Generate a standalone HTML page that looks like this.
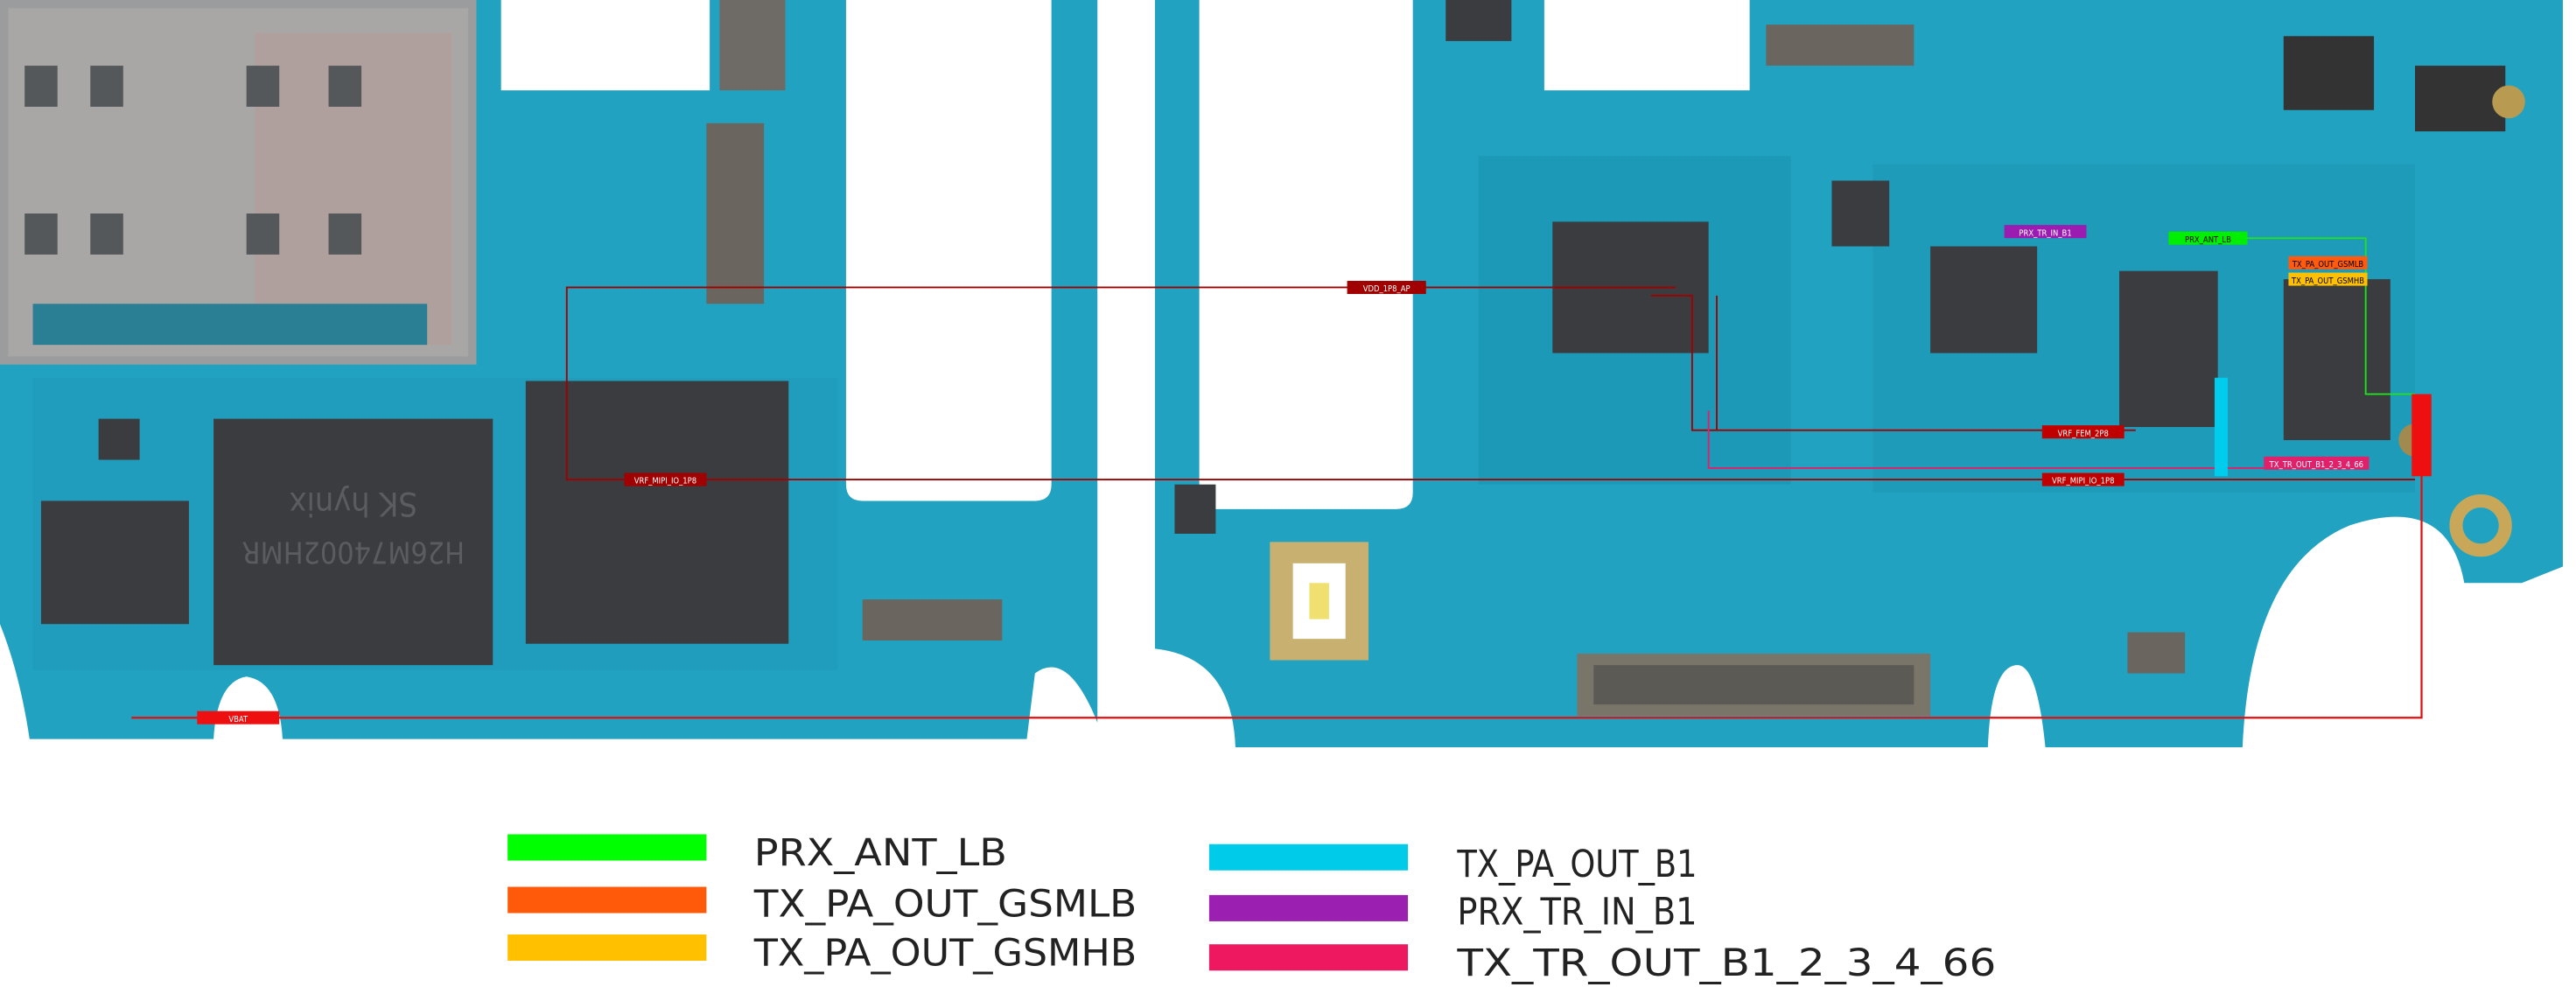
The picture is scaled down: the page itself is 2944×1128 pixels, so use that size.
<!DOCTYPE html>
<html><head><meta charset="utf-8"><style>
html,body{margin:0;padding:0;background:#fff;}
svg{display:block;}
text{font-family:"DejaVu Sans Condensed","Liberation Sans",sans-serif;}
</style></head><body>
<svg width="2944" height="1128" viewBox="0 0 1568 601" preserveAspectRatio="none" xmlns="http://www.w3.org/2000/svg">
<rect width="1568" height="601" fill="#fff"/>
<path d="M0 0 H305 V55 H432 V0 H515 V295 Q515 305 525 305 H630 Q640 305 640 295 V0 H668 V440 Q650 395 630 410 L625 450 H172 Q170 415 150 412 Q132 415 130 450 H18 Q12 410 0 380 Z" fill="#22a2c1"/>
<path d="M703 0 H730 V300 Q730 310 740 310 H850 Q860 310 860 300 V0 H940 V55 H1065 V0 H1560 V345 L1535 355 H1500 Q1490 300 1430 320 Q1370 345 1365 455 H1245 Q1240 405 1228 405 Q1212 405 1210 455 H752 Q750 400 703 395 Z" fill="#22a2c1"/>
<rect x="900" y="95" width="190" height="200" fill="#1b93b3" opacity="0.6"/>
<rect x="1140" y="100" width="330" height="200" fill="#1b93b3" opacity="0.5"/>
<rect x="20" y="230" width="490" height="178" fill="#1d98b8" opacity="0.5"/>
<rect x="0" y="0" width="290" height="222" fill="#9a9c9e"/>
<rect x="5" y="5" width="280" height="212" fill="#a9a7a6"/>
<rect x="155" y="20" width="120" height="190" fill="#b49a98" opacity="0.6"/>
<rect x="20" y="185" width="240" height="25" fill="#2a7f95"/>
<g fill="#55585a">
<rect x="15" y="40" width="20" height="25"/><rect x="55" y="40" width="20" height="25"/><rect x="150" y="40" width="20" height="25"/><rect x="200" y="40" width="20" height="25"/>
<rect x="15" y="130" width="20" height="25"/><rect x="55" y="130" width="20" height="25"/><rect x="150" y="130" width="20" height="25"/><rect x="200" y="130" width="20" height="25"/>
</g>
<rect x="438" y="0" width="40" height="55" fill="#6e6b66"/>
<rect x="430" y="75" width="35" height="110" fill="#6a655e"/>
<rect x="1075" y="15" width="90" height="25" fill="#6a655e"/>
<g fill="#3a3c3f">
<rect x="130" y="255" width="170" height="150"/>
<rect x="320" y="232" width="160" height="160"/>
<rect x="25" y="305" width="90" height="75"/>
<rect x="945" y="135" width="95" height="80"/>
<rect x="1175" y="150" width="65" height="65"/>
<rect x="1290" y="165" width="60" height="95"/>
<rect x="1390" y="170" width="65" height="98"/>
<rect x="1390" y="22" width="55" height="45" fill="#333"/>
<rect x="1470" y="40" width="55" height="40" fill="#333"/>
<rect x="880" y="0" width="40" height="25"/>
<rect x="1115" y="110" width="35" height="40"/>
<rect x="60" y="255" width="25" height="25"/>
<rect x="715" y="295" width="25" height="30"/>
</g>
<text x="215" y="330" font-size="18" fill="#5a5c60" text-anchor="middle" transform="rotate(180 215 330)">H26M74002HMR</text>
<text x="215" y="300" font-size="20" fill="#5a5c60" text-anchor="middle" transform="rotate(180 215 300)">SK hynix</text>
<rect x="525" y="365" width="85" height="25" fill="#6a655e"/>
<rect x="960" y="398" width="215" height="38" fill="#7a7569"/>
<rect x="970" y="405" width="195" height="24" fill="#5c5a55"/>
<rect x="1295" y="385" width="35" height="25" fill="#6a655e"/>
<rect x="773" y="330" width="60" height="72" fill="#c8b070"/>
<rect x="787" y="343" width="32" height="46" fill="#fff"/>
<rect x="797" y="355" width="12" height="22" fill="#f0e070"/>
<circle cx="1510" cy="320" r="15" fill="none" stroke="#c8a858" stroke-width="8"/>
<circle cx="1527" cy="62" r="10" fill="#b89a50"/>
<circle cx="1470" cy="268" r="10" fill="#a08a50"/>
<g fill="none" stroke="#a00000" stroke-width="1">
<path d="M1020 175 H345 V292 H1470"/>
<path d="M1005 180 H1030 V262 H1300"/>
<path d="M1045 262 V180"/>
</g>
<path d="M80 437 H1474 V240" fill="none" stroke="#e01010" stroke-width="1.2"/>
<path d="M1040 250 V285 H1380" fill="none" stroke="#e0206a" stroke-width="1"/>
<path d="M1360 145 H1440 V240 H1470" fill="none" stroke="#20e020" stroke-width="1"/>
<g font-size="5" fill="#fff" text-anchor="middle">
<rect x="820" y="171" width="48" height="8" fill="#a00000"/><text x="844" y="177.5">VDD_1P8_AP</text>
<rect x="380" y="288" width="50" height="8" fill="#a00000"/><text x="405" y="294.5">VRF_MIPI_IO_1P8</text>
<rect x="1243" y="259" width="50" height="8" fill="#c00000"/><text x="1268" y="265.5">VRF_FEM_2P8</text>
<rect x="1243" y="288" width="50" height="8" fill="#c00000"/><text x="1268" y="294.5">VRF_MIPI_IO_1P8</text>
<rect x="1378" y="278" width="64" height="8" fill="#e0206a"/><text x="1410" y="284.5">TX_TR_OUT_B1_2_3_4_66</text>
<rect x="120" y="433" width="50" height="8" fill="#ee1010"/><text x="145" y="439.5">VBAT</text>
<rect x="1220" y="137" width="50" height="8" fill="#9a1cb0"/><text x="1245" y="143.5">PRX_TR_IN_B1</text>
<rect x="1320" y="141" width="48" height="8" fill="#00ee00"/><text x="1344" y="147.5" fill="#000">PRX_ANT_LB</text>
<rect x="1393" y="156" width="48" height="8" fill="#ff5a10"/><text x="1417" y="162.5" fill="#000">TX_PA_OUT_GSMLB</text>
<rect x="1393" y="166" width="48" height="8" fill="#ffc000"/><text x="1417" y="172.5" fill="#000">TX_PA_OUT_GSMHB</text>
<rect x="1348" y="230" width="8" height="60" fill="#00ccee"/>
<rect x="1468" y="240" width="12" height="50" fill="#ee1010"/>
</g>
<rect x="309" y="508" width="121" height="16" fill="#00ff00"/>
<rect x="309" y="540" width="121" height="16" fill="#ff5a0a"/>
<rect x="309" y="569" width="121" height="16" fill="#ffc000"/>
<rect x="736" y="514" width="121" height="16" fill="#00ccea"/>
<rect x="736" y="545" width="121" height="16" fill="#9b1fb0"/>
<rect x="736" y="575" width="121" height="16" fill="#ed1860"/>
<g font-size="23" fill="#222">
<text x="459" y="527" textLength="154" lengthAdjust="spacingAndGlyphs">PRX_ANT_LB</text>
<text x="459" y="558" textLength="233" lengthAdjust="spacingAndGlyphs">TX_PA_OUT_GSMLB</text>
<text x="459" y="588" textLength="233" lengthAdjust="spacingAndGlyphs">TX_PA_OUT_GSMHB</text>
<text x="887" y="534" textLength="146" lengthAdjust="spacingAndGlyphs">TX_PA_OUT_B1</text>
<text x="887" y="563" textLength="146" lengthAdjust="spacingAndGlyphs">PRX_TR_IN_B1</text>
<text x="887" y="594" textLength="328" lengthAdjust="spacingAndGlyphs">TX_TR_OUT_B1_2_3_4_66</text>
</g>
</svg>
</body></html>
